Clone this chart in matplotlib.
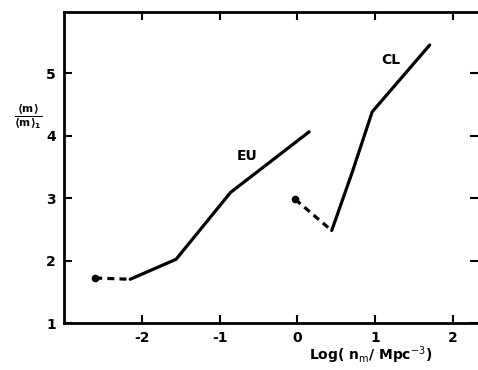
import matplotlib
matplotlib.use("Agg")
import matplotlib.pyplot as plt

# EU branch: dashed low-density extension, then solid curve
eu_dash_x = [-2.60, -2.15]
eu_dash_y = [1.72, 1.70]
eu_x = [-2.15, -1.56, -0.86, 0.15]
eu_y = [1.70, 2.02, 3.09, 4.06]

# CL branch
cl_dash_x = [-0.03, 0.44]
cl_dash_y = [2.98, 2.48]
cl_x = [0.44, 0.70, 0.96, 1.70]
cl_y = [2.48, 3.40, 4.38, 5.45]

xticks = [-2, -1, 0, 1, 2]
yticks = [1, 2, 3, 4, 5]

fig = plt.figure(figsize=(4.78, 3.70), dpi=100)
ax = fig.add_axes([0.134, 0.127, 0.866, 0.841])

lw = 2.3
ax.plot(eu_dash_x, eu_dash_y, color="black", lw=lw, ls=(0, (2.2, 1.6)))
ax.plot(eu_x, eu_y, color="black", lw=lw, solid_capstyle="round")
ax.plot([eu_dash_x[0]], [eu_dash_y[0]], "o", color="black", ms=4.5)

ax.plot(cl_dash_x, cl_dash_y, color="black", lw=lw, ls=(0, (2.2, 1.6)))
ax.plot(cl_x, cl_y, color="black", lw=lw, solid_capstyle="round")
ax.plot([cl_dash_x[0]], [cl_dash_y[0]], "o", color="black", ms=4.5)

ax.text(-0.78, 3.56, "EU", fontsize=10, fontweight="bold", ha="left", va="bottom")
ax.text(1.08, 5.10, "CL", fontsize=10, fontweight="bold", ha="left", va="bottom")

ax.set_xlim(-3.0, 2.32)
ax.set_ylim(1.0, 5.98)
ax.set_xticks(xticks)
ax.set_yticks(yticks)
ax.set_xticklabels([("-%d" % abs(t)) if t < 0 else str(t) for t in xticks],
                   fontsize=10, fontweight="bold")
ax.set_yticklabels([str(t) for t in yticks], fontsize=10, fontweight="bold")
ax.tick_params(direction="in", length=6, width=1.5, top=True, right=True, pad=6)
ax.spines["right"].set_visible(False)
for s in ("left", "bottom", "top"):
    ax.spines[s].set_linewidth(2.0)

fig.text(0.06, 0.685, r"$\mathbf{\frac{\langle m \rangle}{\langle m \rangle_1}}$",
         fontsize=11, ha="center", va="center")
fig.text(0.775, 0.04, r"Log( n$_{\rm m}$/ Mpc$^{-3}$)", fontsize=10,
         fontweight="bold", ha="center", va="center")

fig.savefig("out.png", dpi=100)
